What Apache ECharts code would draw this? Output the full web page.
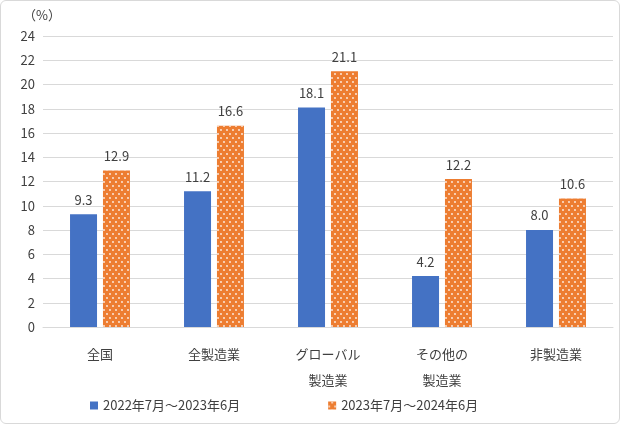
<!DOCTYPE html>
<html><head><meta charset="utf-8">
<script src="https://cdn.jsdelivr.net/npm/echarts@6/dist/echarts.min.js"></script>
<style>html,body{margin:0;padding:0;background:#fff}#c{width:618px;height:422px;border:1px solid #d9d9d9;border-radius:6px}</style>
</head><body><div id="c"></div>
<script>
const categories = ['全国','全製造業','グローバル\n製造業','その他の\n製造業','非製造業'];
const series1Name = '2022年7月～2023年6月';
const series2Name = '2023年7月～2024年6月';
const series1 = [9.3, 11.2, 18.1, 4.2, 8.0];
const series2 = [12.9, 16.6, 21.1, 12.2, 10.6];
const chart = echarts.init(document.getElementById('c'));
const lbl = {show:true, position:'top', color:'#404040', fontSize:13, distance:8, formatter:p=>p.value.toFixed(1)};
chart.setOption({
  textStyle:{fontFamily:'Noto Sans CJK JP'},
  grid:{left:42, right:6, top:35, bottom:96},
  graphic:[{type:'text', left:22, top:8, style:{text:'（%）', fontSize:13, fill:'#404040', fontFamily:'Noto Sans CJK JP'}}],
  legend:{bottom:6, left:84, itemWidth:8, itemHeight:8, itemGap:88, textStyle:{fontSize:13, color:'#404040'},
    data:[{name:series1Name, icon:'rect'},{name:series2Name, icon:'rect'}]},
  xAxis:{type:'category', data:categories, axisTick:{show:false}, axisLine:{lineStyle:{color:'#d9d9d9'}},
    axisLabel:{color:'#404040', fontSize:13, lineHeight:26, margin:14}},
  yAxis:{type:'value', min:0, max:24, interval:2, axisLabel:{color:'#404040', fontSize:13},
    splitLine:{lineStyle:{color:'#d9d9d9'}}},
  series:[
    {name:series1Name, type:'bar', data:series1, barWidth:27, barGap:'22%', itemStyle:{color:'#4472c4'}, label:lbl},
    {name:series2Name, type:'bar', data:series2, barWidth:27, itemStyle:{color:'#ed7d31',
      decal:{symbol:'circle', symbolSize:0.9, color:'rgba(255,255,255,0.9)', dashArrayX:[[2,4],[0,3,2,1]], dashArrayY:[2,2], rotation:0}},
      label:lbl}
  ]
});
</script></body></html>
